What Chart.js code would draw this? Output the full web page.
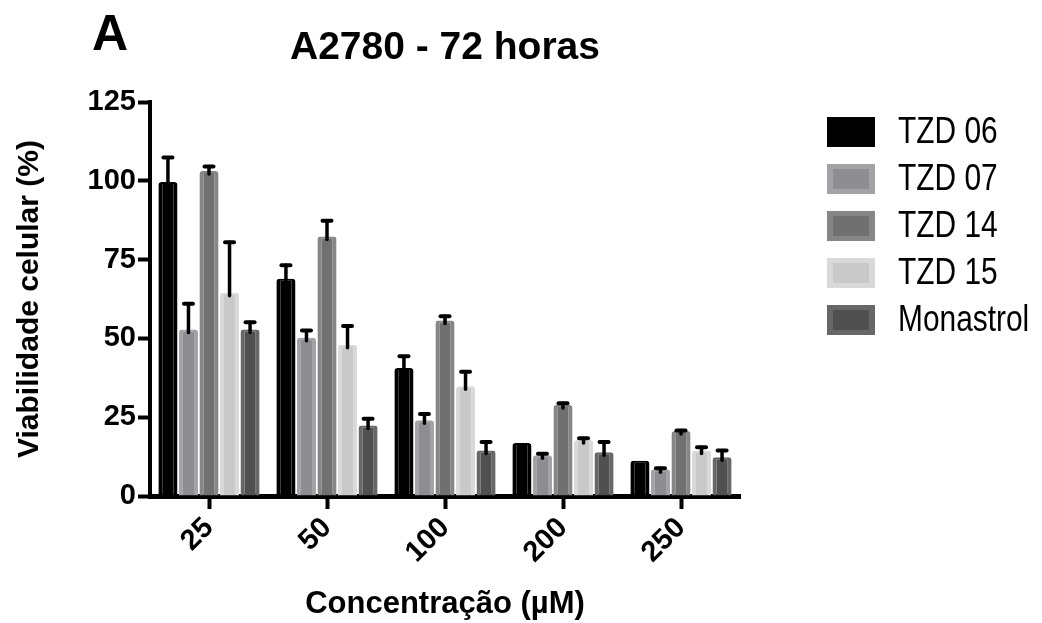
<!DOCTYPE html>
<html>
<head>
<meta charset="utf-8">
<title>A2780 - 72 horas</title>
<script src="https://cdn.jsdelivr.net/npm/chart.js@4.4.1/dist/chart.umd.min.js"></script>
<style>
  html, body { margin: 0; padding: 0; background: #fff; }
  #wrap { width: 1042px; height: 623px; position: relative; }
</style>
</head>
<body>
<div id="wrap"><canvas id="chart" width="1042" height="623"></canvas></div>
<script>
// concentrações (µM) no eixo x
const concentracoes = ["25", "50", "100", "200", "250"];
const yTicks = [0, 25, 50, 75, 100, 125];

// viabilidade celular (%) e erro (só para cima)
const tzd06 = [99.6, 68.9, 40.6, 16.8, 11.2];
const tzd06Err = [7.8, 4.3, 3.7, 0, 0];
const tzd07 = [52.8, 50.2, 24.0, 12.9, 8.5];
const tzd07Err = [8.2, 2.3, 2.0, 0.5, 0.3];
const tzd14 = [103.1, 82.3, 55.7, 28.9, 20.6];
const tzd14Err = [1.4, 5.0, 1.3, 0.5, 0.2];
const tzd15 = [64.5, 48.0, 34.8, 17.8, 14.4];
const tzd15Err = [16.0, 5.9, 4.6, 0.5, 1.1];
const monastrol = [52.8, 22.4, 14.4, 13.9, 12.3];
const monastrolErr = [2.3, 2.1, 2.7, 3.2, 2.1];

const series = [
  { label: "TZD 06", data: tzd06, err: tzd06Err, fill: "#000000", edge: "#000000" },
  { label: "TZD 07", data: tzd07, err: tzd07Err, fill: "#8e8e92", edge: "#a3a3a7" },
  { label: "TZD 14", data: tzd14, err: tzd14Err, fill: "#707070", edge: "#868686" },
  { label: "TZD 15", data: tzd15, err: tzd15Err, fill: "#c9c9c9", edge: "#d9d9d9" },
  { label: "Monastrol", data: monastrol, err: monastrolErr, fill: "#505050", edge: "#676767" }
];

const tickFont = { family: "Liberation Sans", weight: "bold", size: 29 };

// barras de erro (só o lado positivo, com "chapéu")
const errorBars = {
  id: "errorBars",
  afterDatasetsDraw(chart) {
    const ctx = chart.ctx;
    const yScale = chart.scales.y;
    ctx.save();
    ctx.strokeStyle = "#000";
    ctx.lineCap = "round";
    chart.data.datasets.forEach((ds, i) => {
      const meta = chart.getDatasetMeta(i);
      meta.data.forEach((bar, j) => {
        const e = ds.err[j];
        if (!e) return;
        const v = ds.data[j];
        const y0 = yScale.getPixelForValue(v);
        const y1 = yScale.getPixelForValue(v + e);
        ctx.lineWidth = 3.5;
        ctx.beginPath();
        ctx.moveTo(bar.x, y0 + 3);
        ctx.lineTo(bar.x, y1);
        ctx.stroke();
        ctx.lineWidth = 4;
        ctx.beginPath();
        ctx.moveTo(bar.x - 4.5, y1);
        ctx.lineTo(bar.x + 4.5, y1);
        ctx.stroke();
      });
    });
    ctx.restore();
  }
};

// título, letra do painel e legenda
const extras = {
  id: "extras",
  afterDraw(chart) {
    const ctx = chart.ctx;
    const area = chart.chartArea;
    ctx.save();
    ctx.fillStyle = "#000";
    ctx.textBaseline = "alphabetic";
    ctx.font = "bold 50px 'Liberation Sans'";
    ctx.textAlign = "left";
    ctx.fillText("A", 92, 50);
    ctx.font = "bold 39px 'Liberation Sans'";
    ctx.textAlign = "center";
    ctx.fillText("A2780 - 72 horas", (area.left + area.right) / 2, 59);

    ctx.textAlign = "left";
    ctx.textBaseline = "middle";
    ctx.font = "36px 'Liberation Sans'";
    chart.data.datasets.forEach((ds, i) => {
      const top = 117 + i * 47;
      ctx.fillStyle = ds.borderColor;
      ctx.fillRect(827, top, 48, 30);
      ctx.fillStyle = ds.backgroundColor;
      ctx.fillRect(833, top + 5, 36, 20);
      ctx.fillStyle = "#000";
      ctx.save();
      ctx.translate(898, top + 16);
      ctx.scale(0.83, 1); // fonte do original é mais estreita
      ctx.fillText(ds.label, 0, 0);
      ctx.restore();
    });
    ctx.restore();
  }
};

new Chart(document.getElementById("chart"), {
  type: "bar",
  data: {
    labels: concentracoes,
    datasets: series.map(s => ({
      label: s.label,
      data: s.data,
      err: s.err,
      backgroundColor: s.fill,
      borderColor: s.edge,
      borderWidth: { top: 2, left: 4, right: 4, bottom: 0 },
      borderSkipped: "start",
      borderRadius: { topLeft: 3, topRight: 3 },
      categoryPercentage: 0.87,
      barPercentage: 0.93
    }))
  },
  options: {
    responsive: false,
    animation: false,
    devicePixelRatio: 1,
    layout: { padding: { top: 102, right: 302, left: 0, bottom: 0 } },
    plugins: {
      legend: { display: false },
      title: { display: false },
      tooltip: { enabled: false }
    },
    scales: {
      x: {
        ticks: {
          color: "#000",
          font: tickFont,
          minRotation: 45,
          maxRotation: 45,
          padding: 2
        },
        grid: {
          display: true,
          offset: false,
          drawOnChartArea: false,
          tickLength: 13,
          tickWidth: 4,
          tickColor: "#000"
        },
        border: { display: true, color: "#000", width: 5 },
        title: {
          display: true,
          text: "Concentração (µM)",
          color: "#000",
          font: { family: "Liberation Sans", weight: "bold", size: 31 },
          padding: { top: 0, bottom: 0 }
        },
        afterFit(scale) { scale.height = 127; }
      },
      y: {
        min: 0,
        max: 125,
        afterBuildTicks(scale) { scale.ticks = yTicks.map(v => ({ value: v })); },
        ticks: {
          color: "#000",
          font: tickFont,
          padding: 2
        },
        grid: {
          display: true,
          drawOnChartArea: false,
          tickLength: 12,
          tickWidth: 4,
          tickColor: "#000"
        },
        border: { display: true, color: "#000", width: 4 },
        title: {
          display: true,
          text: "Viabilidade celular (%)",
          color: "#000",
          font: { family: "Liberation Sans", weight: "bold", size: 30 },
          padding: { top: 12, bottom: 0 }
        },
        afterFit(scale) { scale.width = 150; }
      }
    }
  },
  plugins: [errorBars, extras]
});
</script>
</body>
</html>
